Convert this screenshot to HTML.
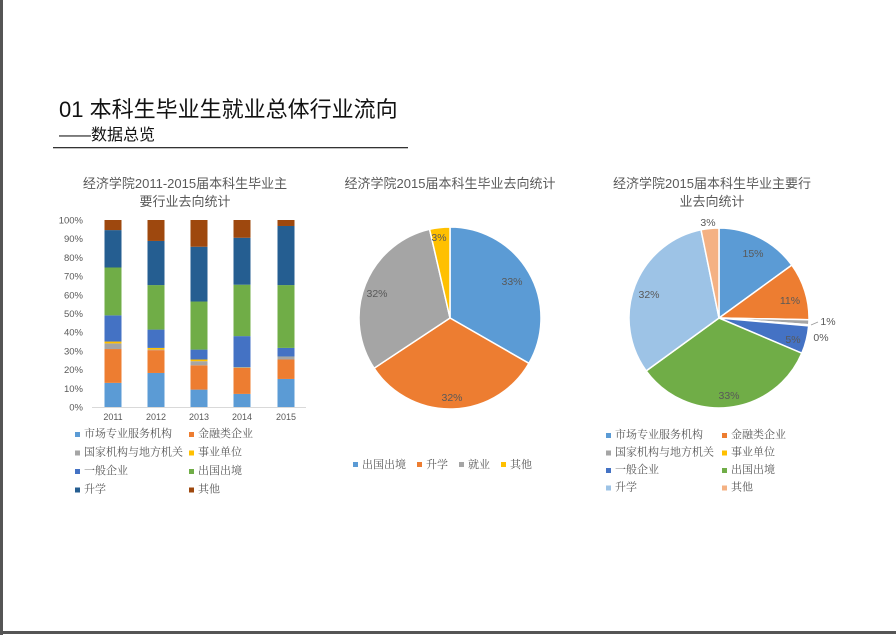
<!DOCTYPE html>
<html><head><meta charset="utf-8"><style>
body{margin:0;background:#fff;width:896px;height:635px;overflow:hidden}
svg{display:block}
.t{font-family:"Liberation Sans","Noto Sans CJK SC",sans-serif;fill:#595959}
.l{font-family:"Liberation Serif","Noto Serif CJK SC",serif;fill:#595959;font-size:11px}
</style></head><body>
<svg id="s" width="896" height="635" xmlns="http://www.w3.org/2000/svg">
<rect x="0" y="0" width="3" height="635" fill="#555"/>
<rect x="0" y="631" width="896" height="3" fill="#555"/>
<text x="59" y="117" font-size="22" fill="#111" font-family="Liberation Sans,Noto Sans CJK SC,sans-serif">01 本科生毕业生就业总体行业流向</text>
<text x="59" y="140" font-size="16" fill="#111" font-family="Liberation Sans,Noto Sans CJK SC,sans-serif">——数据总览</text>
<rect x="53" y="147" width="355" height="1.3" fill="#333"/>
<text class="t" x="185" y="188" font-size="13" text-anchor="middle">经济学院2011-2015届本科生毕业主</text>
<text class="t" x="185" y="206" font-size="13" text-anchor="middle">要行业去向统计</text>
<text class="t" x="450" y="188" font-size="13" text-anchor="middle">经济学院2015届本科生毕业去向统计</text>
<text class="t" x="712" y="188" font-size="13" text-anchor="middle">经济学院2015届本科生毕业主要行</text>
<text class="t" x="712" y="206" font-size="13" text-anchor="middle">业去向统计</text>
<g id="g"></g>
</svg>
<script>
var g=document.getElementById('g'),h='';
var C=['#5B9BD5','#ED7D31','#A5A5A5','#FFC000','#4472C4','#70AD47','#255E91','#9E480E'];
var y0=407,sc=1.87;
for(var i=0;i<=10;i++){var y=y0-i*10*sc;h+='<text class="t" x="83" y="'+(y+3.5)+'" font-size="9.5" text-anchor="end">'+(i*10)+'%</text>';}
h+='<line x1="92" y1="407.5" x2="306" y2="407.5" stroke="#d9d9d9"/>';
var D=[[12.9,31,34,35,49,74.6,94.6,100],[18.2,30.4,30.7,31.6,41.4,65.2,88.8,100],[9.3,22.3,24.5,25.4,30.7,56.4,85.7,100],[7,20.9,21,21.2,37.9,65.4,90.5,100],[15,25.4,26.8,26.9,31.6,65.2,96.8,100]];
var X=[113,156,199,242,286],Y=['2011','2012','2013','2014','2015'];
D.forEach(function(d,j){var p=0;d.forEach(function(v,k){var a=y0-v*sc,b=y0-p*sc;h+='<rect x="'+(X[j]-8.5)+'" y="'+a+'" width="17" height="'+(b-a)+'" fill="'+C[k]+'"/>';p=v;});h+='<text class="t" x="'+X[j]+'" y="420" font-size="9" text-anchor="middle">'+Y[j]+'</text>';});
var L=['市场专业服务机构','金融类企业','国家机构与地方机关','事业单位','一般企业','出国出境','升学','其他'];
L.forEach(function(s,k){var x=k%2?189:75,y=436+Math.floor(k/2)*18.5;h+='<rect x="'+x+'" y="'+(y-4)+'" width="5" height="5" fill="'+C[k]+'"/><text class="l" x="'+(x+9)+'" y="'+(y+1)+'">'+s+'</text>';});
function pie(cx,cy,r,v,cols,labs){var p=0;v.forEach(function(e,k){var a0=p/100*2*Math.PI,a1=(p+e)/100*2*Math.PI;var x0=cx+r*Math.sin(a0),y0=cy-r*Math.cos(a0),x1=cx+r*Math.sin(a1),y1=cy-r*Math.cos(a1);h+='<path d="M'+cx+','+cy+'L'+x0+','+y0+'A'+r+','+r+' 0 '+(e>50?1:0)+' 1 '+x1+','+y1+'Z" fill="'+cols[k]+'" stroke="#fff" stroke-width="1.5"/>';p+=e;});labs.forEach(function(l){h+='<text class="t" x="'+l[0]+'" y="'+l[1]+'" font-size="10.5" text-anchor="middle" fill="#404040">'+l[2]+'</text>';});}
pie(450,318,91,[33.3,32.4,30.7,3.6],['#5B9BD5','#ED7D31','#A5A5A5','#FFC000'],[[512,285,'33%'],[452,401,'32%'],[377,297,'32%'],[439,241,'3%']]);
pie(719,318,90,[15,10.3,0.9,0.2,5,33.6,31.8,3.2],['#5B9BD5','#ED7D31','#A5A5A5','#FFC000','#4472C4','#70AD47','#9DC3E6','#F4B183'],[[753,257,'15%'],[790,304,'11%'],[828,325,'1%'],[821,341,'0%'],[793,343,'5%'],[729,399,'33%'],[649,298,'32%'],[708,226,'3%']]);
h+='<line x1="811" y1="325" x2="818" y2="322" stroke="#999" stroke-width="0.8"/>';
var P=[['出国出境','#5B9BD5',353],['升学','#ED7D31',417],['就业','#A5A5A5',459],['其他','#FFC000',501]];
P.forEach(function(q){h+='<rect x="'+q[2]+'" y="462" width="5" height="5" fill="'+q[1]+'"/><text class="l" x="'+(q[2]+9)+'" y="468">'+q[0]+'</text>';});
var C2=['#5B9BD5','#ED7D31','#A5A5A5','#FFC000','#4472C4','#70AD47','#9DC3E6','#F4B183'];
L.forEach(function(s,k){var x=k%2?722:606,y=437+Math.floor(k/2)*17.5;h+='<rect x="'+x+'" y="'+(y-4)+'" width="5" height="5" fill="'+C2[k]+'"/><text class="l" x="'+(x+9)+'" y="'+(y+1)+'">'+s+'</text>';});
g.innerHTML=h;
</script>
</body></html>
